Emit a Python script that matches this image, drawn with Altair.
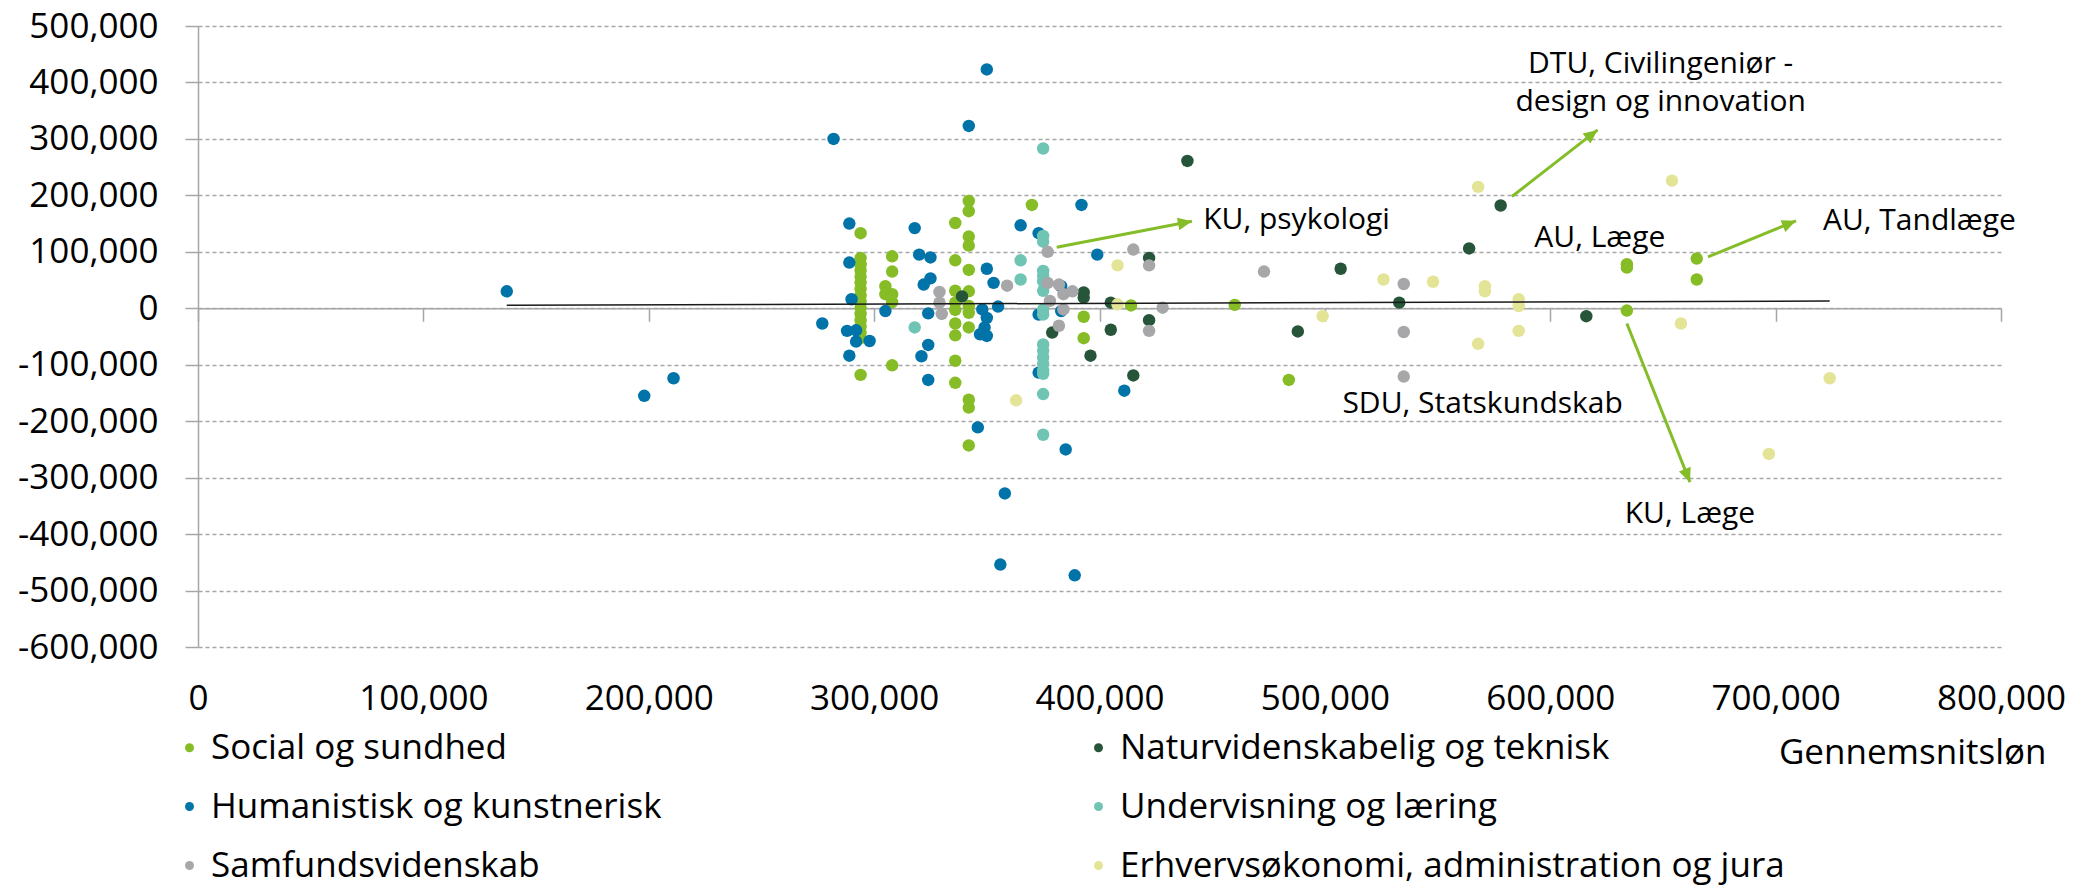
import math
import altair as alt
import pandas as pd

# ---------------- data (values in thousands of DKK) -------------
social_x = [294, 294, 294, 294, 294, 294, 294, 294, 294, 294, 294, 294, 294, 294, 294, 294,
            305, 305, 308, 308, 308, 308, 308,
            336, 342, 342, 342, 342, 336, 342, 336, 342, 336, 336, 342, 342, 336, 342, 336, 336, 336, 342, 342, 342,
            370, 393, 393, 414, 460, 484, 634, 634, 634, 665, 665]
social_y = [133, 89, 78, 67, 56, 45, 34, 23, 12, 1, -10, -21, -32, -43, -53, -118,
            39, 25, 92, 65, 25, 11, -101,
            151, 190, 172, 127, 111, 85, 68, 31, 30, 10, -3, 4, -8, -27, -34, -48, -93, -132, -162, -176, -243,
            183, -15, -53, 5, 6, -127, 78, 72, -4, 88, 51]

human_x = [137, 198, 211, 277, 282, 289, 289, 290, 288, 292, 292, 298, 289, 305, 318, 320, 325, 325, 322,
           324, 324, 321, 324, 342, 350, 350, 353, 355, 348, 350, 349, 347, 350, 346, 358, 356, 365, 373,
           392, 399, 383, 383, 373, 373, 385, 389, 411]
human_y = [30, -155, -124, -27, 300, 150, 81, 16, -40, -39, -59, -58, -84, -5, 142, 95, 90, 53, 42,
           -9, -65, -85, -127, 323, 423, 70, 45, 3, -2, -17, -34, -46, -49, -211, -328, -454, 147, 133,
           183, 95, 39, -5, -11, -114, -250, -473, -146]

samf_x = [329, 329, 330, 359, 377, 377, 382, 384, 388, 378, 384, 382, 415, 422, 428, 422, 473, 535, 535, 535]
samf_y = [29, 10, -10, 40, 100, 45, 42, 25, 30, 13, -2, -31, 104, 76, 1, -40, 65, 43, -42, -121]

natur_x = [339, 379, 393, 393, 396, 405, 405, 415, 422, 422, 439, 488, 507, 533, 564, 578, 616]
natur_y = [21, -43, 28, 19, -84, 10, -38, -119, 89, -21, 261, -41, 70, 10, 106, 182, -14]

underv_x = [318, 365, 365, 375, 375, 375, 375, 375, 375, 375, 375, 375, 375, 375, 375, 375, 375, 375, 375, 375]
underv_y = [-34, 85, 51, 283, 128, 118, 66, 58, 48, 31, -2, -11, -64, -75, -87, -98, -110, -116, -152, -224]

erhv_x = [363, 408, 408, 499, 526, 548, 568, 571, 571, 568, 586, 586, 586, 654, 658, 697, 724]
erhv_y = [-163, 76, 7, -14, 51, 47, 215, 39, 30, -63, 16, 4, -40, 226, -27, -258, -124]

# trend line end points
trend_x = [137, 724]
trend_y = [5.3, 12.9]

# legend order (column-major, two columns) and colours
legend_order = ["Social og sundhed", "Humanistisk og kunstnerisk", "Samfundsvidenskab",
                "Naturvidenskabelig og teknisk", "Undervisning og læring",
                "Erhvervsøkonomi, administration og jura"]
legend_colors = ["#86BC25", "#0073A8", "#A7A7A9", "#26553A", "#6FC4B4", "#E4E497"]

# annotations
ann_left_text = ["KU, psykologi", "AU, Tandlæge"]
ann_left_x = [446, 721]
ann_left_y = [156, 154]
ann_center_text = ["DTU, Civilingeniør -", "design og innovation", "AU, Læge", "SDU, Statskundskab", "KU, Læge"]
ann_center_x = [649, 649, 622, 570, 662]
ann_center_y = [432, 366, 124, -169, -365]

arrow_x1 = [381, 583, 670, 634]
arrow_y1 = [108, 198, 91, -27]
arrow_x2 = [441, 621, 709, 662]
arrow_y2 = [154, 316, 155, -308]

x_ticks = [0, 100000, 200000, 300000, 400000, 500000, 600000, 700000, 800000]
y_ticks = [-600000, -500000, -400000, -300000, -200000, -100000, 0, 100000, 200000, 300000, 400000, 500000]

# ---------------- layout / style ----------------
W, H = 1803, 621
XMIN, XMAX = 0, 800000
YMIN, YMAX = -600000, 500000
FONT = "Open Sans"
GRID = "#A6A6A6"
ARROW = "#84BD28"
K = 1000

series = [
    ("Social og sundhed", social_x, social_y),
    ("Humanistisk og kunstnerisk", human_x, human_y),
    ("Undervisning og læring", underv_x, underv_y),
    ("Naturvidenskabelig og teknisk", natur_x, natur_y),
    ("Samfundsvidenskab", samf_x, samf_y),
    ("Erhvervsøkonomi, administration og jura", erhv_x, erhv_y),
]
rows = []
for cat, xs, ys in series:
    for xv, yv in zip(xs, ys):
        rows.append({"x": xv * K, "y": yv * K, "cat": cat})
points_df = pd.DataFrame(rows)

trend_df = pd.DataFrame({"x": [v * K for v in trend_x], "y": [v * K for v in trend_y]})
ann_left_df = pd.DataFrame({"x": [v * K for v in ann_left_x], "y": [v * K for v in ann_left_y], "t": ann_left_text})
ann_center_df = pd.DataFrame({"x": [v * K for v in ann_center_x], "y": [v * K for v in ann_center_y], "t": ann_center_text})

px_x = W / (XMAX - XMIN)
px_y = H / (YMAX - YMIN)
angles = []
for a, b, c, d in zip(arrow_x1, arrow_y1, arrow_x2, arrow_y2):
    dx = (c - a) * K * px_x
    dy = -(d - b) * K * px_y
    angles.append(math.degrees(math.atan2(dx, -dy)) % 360)
arrow_df = pd.DataFrame({
    "x": [v * K for v in arrow_x1], "y": [v * K for v in arrow_y1],
    "x2": [v * K for v in arrow_x2], "y2": [v * K for v in arrow_y2],
    "angle": angles,
})

x_scale = alt.Scale(domain=[XMIN, XMAX], nice=False, zero=False)
y_scale = alt.Scale(domain=[YMIN, YMAX], nice=False, zero=False)

x_axis_main = alt.Axis(
    orient="bottom", values=x_ticks, format=",d", domain=False, ticks=False, tickSize=0,
    grid=False, labelFontSize=35, labelColor="black", labelPadding=62,
    labelBaseline="alphabetic", labelFlush=False, labelOverlap=False,
    title="Gennemsnitsløn", titleFontSize=35, titleFontWeight="normal", titleColor="black",
    titleX=1848, titleY=116, titleAlign="right", titleBaseline="alphabetic",
)
zero_offset = H * (0 - YMIN) / (YMAX - YMIN)
x_axis_zero = alt.Axis(
    orient="bottom", values=x_ticks, offset=-zero_offset, labels=False, domain=True,
    domainColor=GRID, domainWidth=1.5, ticks=True, tickColor=GRID, tickSize=13, tickWidth=1.5,
    grid=False, title=None,
)
y_axis = alt.Axis(
    orient="left", values=y_ticks, labelExpr="replace(format(datum.value, ',d'), '\u2212', '-')",
    domain=True, domainColor=GRID, domainWidth=1.5, ticks=True, tickColor=GRID,
    tickSize=13, tickWidth=1.5, grid=True, gridColor=GRID, gridDash=[4, 3], gridWidth=1.3,
    labelFontSize=35, labelColor="black", labelPadding=27, labelFlush=False,
    labelOverlap=False, title=None,
)

X = alt.X("x:Q", scale=x_scale, axis=x_axis_main)
Y = alt.Y("y:Q", scale=y_scale, axis=y_axis)

points = alt.Chart(points_df).mark_circle(size=155, opacity=1).encode(
    x=X, y=Y,
    color=alt.Color(
        "cat:N",
        scale=alt.Scale(domain=legend_order, range=legend_colors),
        legend=alt.Legend(
            title=None, orient="none", legendX=-26, legendY=704, direction="vertical",
            columns=2, columnPadding=419, rowPadding=23, symbolType="circle",
            symbolSize=80, symbolStrokeWidth=0, labelFontSize=35, labelColor="black",
            labelLimit=1000, labelOffset=4, padding=0, symbolOpacity=1,
        ),
    ),
)

arrow_lines = alt.Chart(arrow_df).mark_rule(color=ARROW, strokeWidth=3).encode(
    x=X, y=Y, x2="x2:Q", y2="y2:Q",
)

ARROW_PATH = "M0,0 L-0.9,2 L0.9,2 Z"
arrow_heads = alt.Chart(arrow_df).mark_point(
    shape=ARROW_PATH, filled=True, size=196, color=ARROW, opacity=1, strokeWidth=0
).encode(
    x=alt.X("x2:Q", scale=x_scale, axis=x_axis_main),
    y=alt.Y("y2:Q", scale=y_scale, axis=y_axis),
    angle=alt.Angle("angle:Q", scale=None),
)

text_left = alt.Chart(ann_left_df).mark_text(
    font=FONT, fontSize=30, color="black", align="left", baseline="middle"
).encode(x=X, y=Y, text="t:N")
text_center = alt.Chart(ann_center_df).mark_text(
    font=FONT, fontSize=30, color="black", align="center", baseline="middle"
).encode(x=X, y=Y, text="t:N")

main = alt.layer(points, arrow_lines, arrow_heads, text_left, text_center)

trend = alt.Chart(trend_df).mark_line(color="#1a1a1a", strokeWidth=1.5).encode(
    x=alt.X("x:Q", scale=x_scale, axis=x_axis_zero),
    y=Y,
)

chart = alt.layer(main, trend).resolve_axis(x="independent").properties(
    width=W, height=H,
    autosize=alt.AutoSizeParams(type="none"),
    padding={"left": 190, "top": 18, "right": 72, "bottom": 240},
    background="white",
).configure(font=FONT).configure_view(stroke=None)

chart.save("out.html", embed_options={"renderer": "svg", "actions": False})
